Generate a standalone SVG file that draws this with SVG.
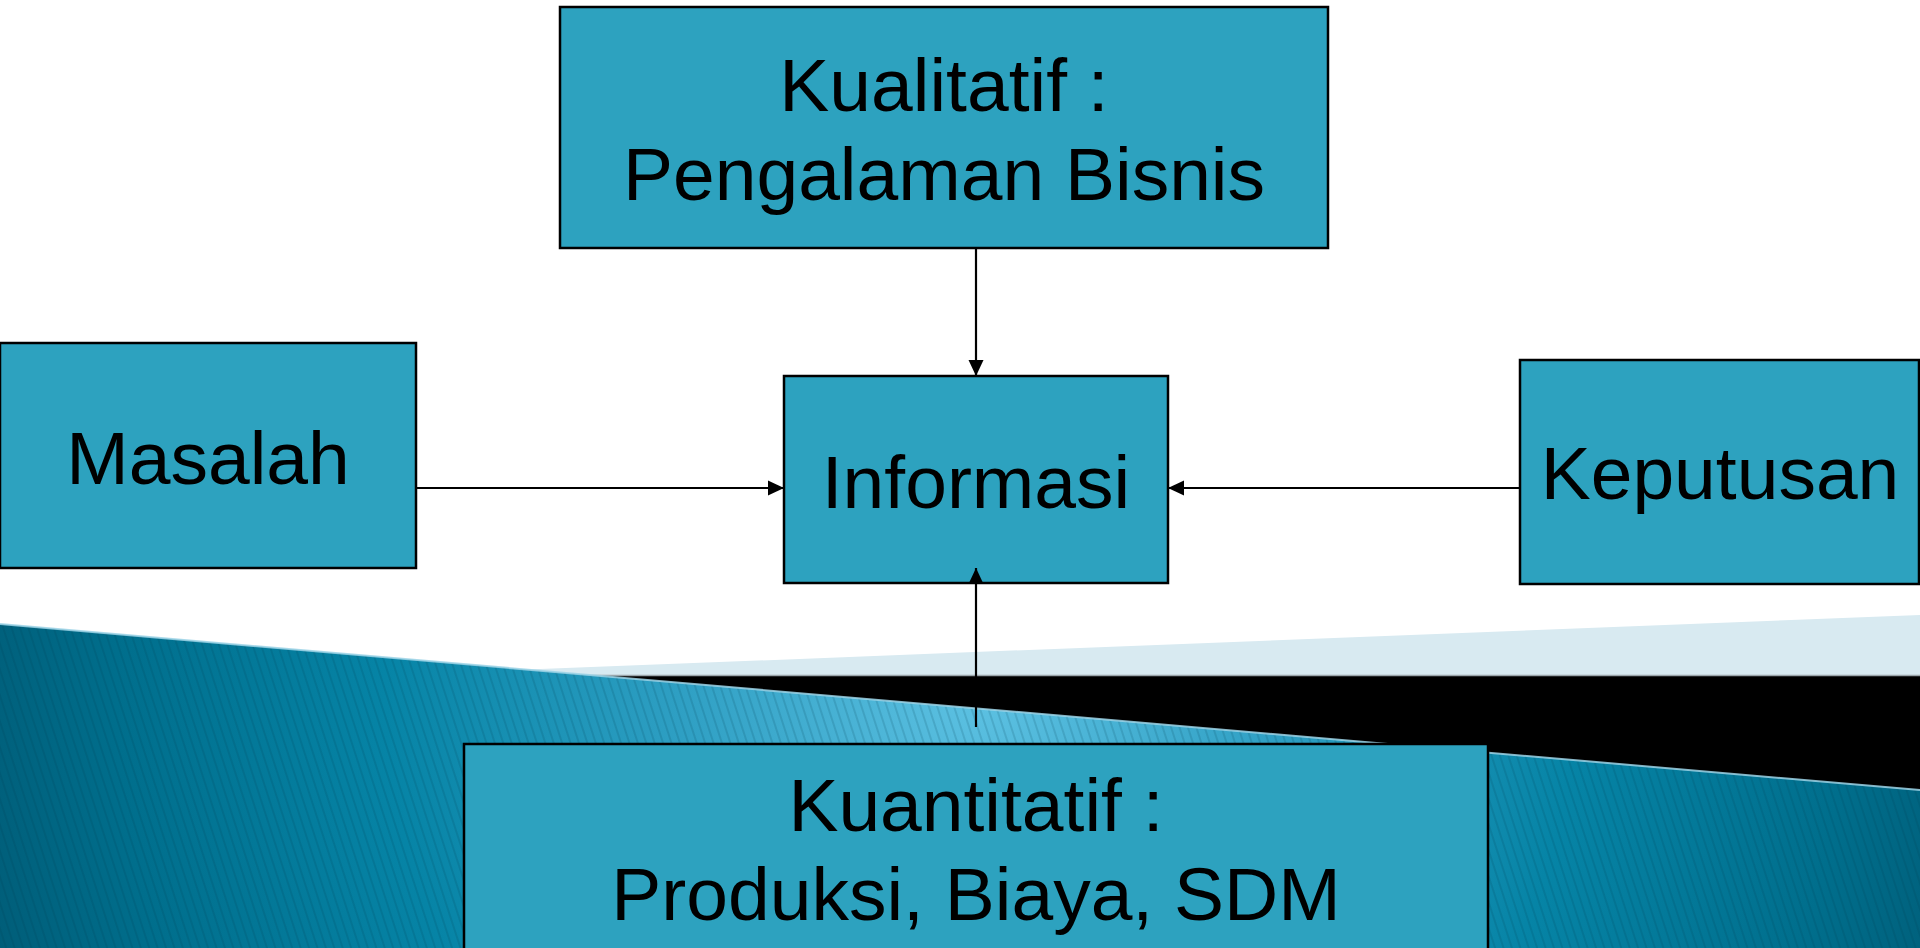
<svg xmlns="http://www.w3.org/2000/svg" width="1920" height="948" viewBox="0 0 1920 948">
<style>
.node rect{fill:#2DA2BF;stroke:#000;stroke-width:2.5}
.node text{font-family:"Liberation Sans",Arial,sans-serif;font-size:75px;fill:#000;text-anchor:middle}
.conn line{stroke:#000;stroke-width:2.2}
</style>
<defs>
<radialGradient id="tealGrad" gradientUnits="userSpaceOnUse" cx="980" cy="690" r="1080">
<stop offset="0" stop-color="#5EC2E3"/>
<stop offset="0.28" stop-color="#2E9FC3"/>
<stop offset="0.55" stop-color="#0684A6"/>
<stop offset="0.8" stop-color="#006E8C"/>
<stop offset="1" stop-color="#005670"/>
</radialGradient>
<pattern id="stripes" patternUnits="userSpaceOnUse" width="8" height="8" patternTransform="rotate(-18)">
<line x1="1" y1="0" x2="1" y2="8" stroke="#003A4C" stroke-width="1" stroke-opacity="0.3"/>
</pattern>
<marker id="arrow" markerUnits="userSpaceOnUse" markerWidth="16" markerHeight="16" viewBox="0 0 16 16" refX="16" refY="8" orient="auto">
<path d="M0,0.5 L16,8 L0,15.5 z" fill="#000"/>
</marker>
</defs>
<rect x="0" y="0" width="1920" height="948" fill="#FFFFFF"/>
<g id="background">
<polygon points="440,673 1920,615 1920,676 440,676" fill="#D8EAF1"/>
<rect x="0" y="676" width="1920" height="130" fill="#000"/>
<line x1="440" y1="675.5" x2="1920" y2="675.5" stroke="#9AA5AA" stroke-width="1.5"/>
<polygon points="0,624 1920,790 1920,948 0,948" fill="url(#tealGrad)"/>
<polygon points="0,624 1920,790 1920,948 0,948" fill="url(#stripes)"/>
<line x1="0" y1="624" x2="1920" y2="790" stroke="#9DD3E6" stroke-width="2" stroke-opacity="0.85"/>
</g>
<g id="node-kualitatif" class="node">
<rect x="560" y="7" width="768" height="241"/>
<text x="944" y="111">Kualitatif :</text>
<text x="944" y="200">Pengalaman Bisnis</text>
</g>
<g id="node-masalah" class="node">
<rect x="0" y="343" width="416" height="225"/>
<text x="208" y="484">Masalah</text>
</g>
<g id="node-informasi" class="node">
<rect x="784" y="376" width="384" height="207"/>
<text x="976" y="508">Informasi</text>
</g>
<g id="node-keputusan" class="node">
<rect x="1520" y="360" width="399" height="224"/>
<text x="1720" y="499">Keputusan</text>
</g>
<g id="node-kuantitatif" class="node">
<rect x="464" y="744" width="1024" height="210"/>
<text x="976" y="831">Kuantitatif :</text>
<text x="976" y="920">Produksi, Biaya, SDM</text>
</g>
<g id="connectors" class="conn">
<line x1="976" y1="248" x2="976" y2="376" marker-end="url(#arrow)"/>
<line x1="416" y1="488" x2="784" y2="488" marker-end="url(#arrow)"/>
<line x1="1520" y1="488" x2="1168" y2="488" marker-end="url(#arrow)"/>
<line x1="976" y1="727" x2="976" y2="568" marker-end="url(#arrow)"/>
</g>
</svg>
